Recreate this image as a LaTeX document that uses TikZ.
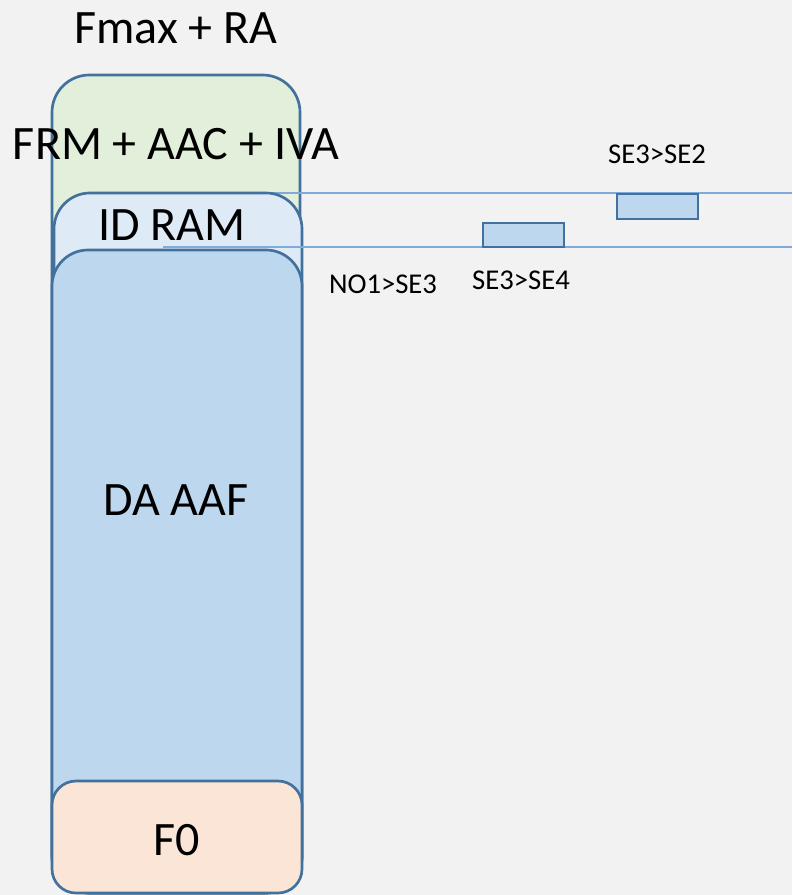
\documentclass[tikz,border=0pt]{standalone}
\usepackage{fontspec}
\setmainfont{Carlito}
\definecolor{paper}{HTML}{F2F2F2}
\definecolor{rimblue}{HTML}{41719C}
\definecolor{lineblue}{HTML}{7FAADB}
\definecolor{fillgreen}{HTML}{E2EFDA}
\definecolor{fillpale}{HTML}{DEEBF7}
\definecolor{fillblue}{HTML}{BDD7EE}
\definecolor{fillpeach}{HTML}{FBE5D6}
\begin{document}
\begin{tikzpicture}[
    x=0.75pt,
    y=-0.75pt,
    layer/.style={draw=rimblue, line width=2pt},
    marker/.style={draw=lineblue, line width=1.1pt},
    bar/.style={draw=rimblue, fill=fillblue, line width=1.8pt},
    bigtext/.style={anchor=base, inner sep=0pt, font=\fontsize{36}{43}\selectfont},
    smalltext/.style={anchor=base, inner sep=0pt, font=\fontsize{21.5}{26}\selectfont},
    ]
    \fill[paper] (0,0) rectangle (792,895);
    \useasboundingbox (0,0) rectangle (792,895);

    % stacked layers
    \draw[layer, fill=fillgreen, rounded corners=28pt] (52,75) rectangle (300,893);
    \coordinate (upperstart) at (163,193);
    \coordinate (upperend) at (792,193);
    \draw[marker] (upperstart) -- (upperend);
    \draw[layer, fill=fillpale, rounded corners=27pt] (54,193) rectangle (302,893);
    \coordinate (lowerstart) at (163,247);
    \coordinate (lowerend) at (792,247);
    \draw[marker] (lowerstart) -- (lowerend);
    \draw[layer, fill=fillblue, rounded corners=27pt] (52,250) rectangle (302,893);
    \draw[layer, fill=fillpeach, rounded corners=18pt] (52,781) rectangle (302,893);

    % transfer bars
    \draw[bar] (483,223) rectangle (564,247);
    \draw[bar] (617,194) rectangle (698,219);

    % labels
    \node[bigtext] (fmax) at (176,44) {Fmax + RA};
    \node[bigtext] (frm) at (176,160) {FRM + AAC + IVA};
    \node[bigtext] (idram) at (172,240) {ID RAM};
    \node[bigtext] (daaaf) at (176,515) {DA AAF};
    \node[bigtext] (fzero) at (177,855) {F0};
    \node[smalltext] (nosethree) at (383,293) {NO1>SE3};
    \node[smalltext] (sefour) at (521,289) {SE3>SE4};
    \node[smalltext] (setwo) at (657,163) {SE3>SE2};
\end{tikzpicture}
\end{document}
